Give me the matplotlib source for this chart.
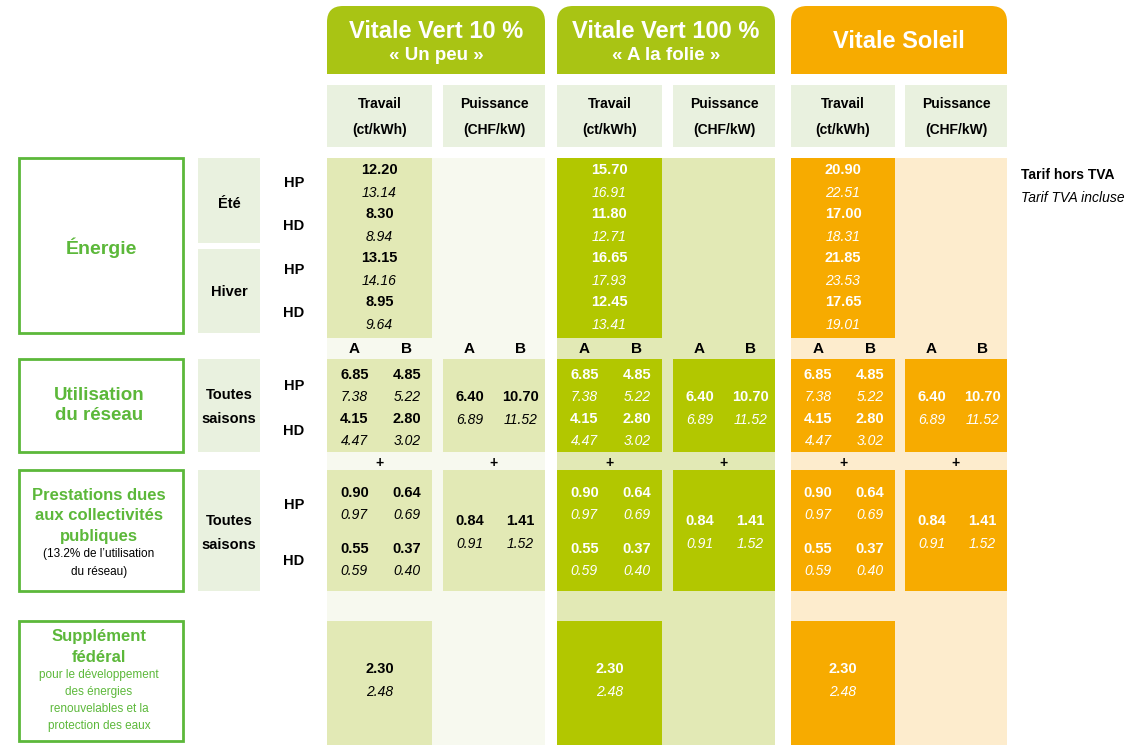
import matplotlib
matplotlib.use("Agg")
import matplotlib.pyplot as plt
from matplotlib.patches import Rectangle, FancyBboxPatch

plans = ["Vitale Vert 10 %\n« Un peu »", "Vitale Vert 100 %\n« A la folie »", "Vitale Soleil"]
energy_ht = [["12.20", "8.30", "13.15", "8.95"], ["15.70", "11.80", "16.65", "12.45"], ["20.90", "17.00", "21.85", "17.65"]]
energy_ttc = [["13.14", "8.94", "14.16", "9.64"], ["16.91", "12.71", "17.93", "13.41"], ["22.51", "18.31", "23.53", "19.01"]]
reseau_travail = [["6.85", "4.85"], ["7.38", "5.22"], ["4.15", "2.80"], ["4.47", "3.02"]]
reseau_puiss = [["6.40", "10.70"], ["6.89", "11.52"]]
prest_travail = [["0.90", "0.64"], ["0.97", "0.69"], ["0.55", "0.37"], ["0.59", "0.40"]]
prest_puiss = [["0.84", "1.41"], ["0.91", "1.52"]]
supplement = ["2.30", "2.48"]

fig = plt.figure(figsize=(11.36, 7.56), dpi=100)
ax = fig.add_axes([0, 0, 1, 1])
ax.set_xlim(0, 1136); ax.set_ylim(756, 0); ax.axis("off")
F = "Liberation Sans"

def rect(x0, y0, x1, y1, c, ec="none", lw=0):
    ax.add_patch(Rectangle((x0, y0), x1 - x0, y1 - y0, facecolor=c, edgecolor=ec, lw=lw))

def t(x, y, s, c="black", size=10.5, w="bold", st="normal", **kw):
    ax.text(x, y, s, color=c, fontsize=size, fontweight=w, style=st, ha="center", va="center", family=F, **kw)

def lines(x, y0, step, items):
    for k, (s, c, size, w) in enumerate(items):
        t(x, y0 + k * step, s, c, size, w)

colx = [(327, 432, 443, 545), (557, 662, 673, 775), (791, 895, 905, 1007)]
hdr = ["#a9c414", "#a9c414", "#f7ab00"]
strong = ["#e2e9b5", "#b2c700", "#f7ab00"]
tint = ["#f7f9ef", "#e2e9b5", "#fdeccd"]
txt = ["black", "white", "white"]
sub = "#e9f1df"
green = "#5cb83a"

for i, (a0, a1, b0, b1) in enumerate(colx):
    ax.add_patch(FancyBboxPatch((a0, 6), b1 - a0, 80, boxstyle="round,pad=0,rounding_size=16",
                                facecolor=hdr[i], edgecolor="none"))
    rect(a0, 50, b1, 74, hdr[i])
    rect(a0, 74, b1, 90, "white")
    if i < 2:
        l1, l2 = plans[i].split("\n")
        t((a0 + b1) / 2, 31, l1, "white", 17)
        t((a0 + b1) / 2, 56, l2, "white", 13.5)
    else:
        t((a0 + b1) / 2, 42, plans[i], "white", 17)
    for (x0, x1), (l1, l2) in [((a0, a1), ("Travail", "(ct/kWh)")), ((b0, b1), ("Puissance", "(CHF/kW)"))]:
        rect(x0, 85, x1, 147, sub)
        t((x0 + x1) / 2, 104, l1, size=10)
        t((x0 + x1) / 2, 130, l2, size=10)
    rect(a0, 158, b1, 745, tint[i])
    rect(a0, 158, a1, 338, strong[i])
    for k in range(4):
        y = 170 + k * 44
        t((a0 + a1) / 2, y, energy_ht[i][k], txt[i], 10.5)
        t((a0 + a1) / 2, y + 23, energy_ttc[i][k], txt[i], 10, "normal", "italic")
    for (x0, x1) in [(a0, a1), (b0, b1)]:
        xa, xb = x0 + 0.26 * (x1 - x0), x0 + 0.76 * (x1 - x0)
        t(xa, 349, "A", size=11); t(xb, 349, "B", size=11)
        t((x0 + x1) / 2, 463, "+", size=10)
        for (y0, y1, trav, puis, ys, yp) in [(359, 452, reseau_travail, reseau_puiss, 375, 397),
                                            (470, 591, prest_travail, prest_puiss, 493, 521)]:
            rect(x0, y0, x1, y1, strong[i])
            if x0 == a0:
                for k in range(4):
                    yy = ys + k * 22 + (12 if (ys == 493 and k >= 2) else 0)
                    for j, xx in enumerate([xa, xb]):
                        if k % 2 == 0:
                            t(xx, yy, trav[k][j], txt[i], 10.5)
                        else:
                            t(xx, yy, trav[k][j], txt[i], 10, "normal", "italic")
            else:
                for k in range(2):
                    for j, xx in enumerate([xa, xb]):
                        if k == 0:
                            t(xx, yp, puis[k][j], txt[i], 10.5)
                        else:
                            t(xx, yp + 23, puis[k][j], txt[i], 10, "normal", "italic")
    rect(a0, 621, a1, 745, strong[i])
    t((a0 + a1) / 2, 669, supplement[0], txt[i], 10.5)
    t((a0 + a1) / 2, 692, supplement[1], txt[i], 10, "normal", "italic")

for (y0, y1) in [(158, 333), (359, 452), (470, 591), (621, 741)]:
    rect(19, y0, 183, y1, "white", green, 2)
t(101, 248, "Énergie", green, 14)
lines(99, 396, 19, [("Utilisation", green, 13.5, "bold"), ("du réseau", green, 13.5, "bold")])
lines(99, 496, 20, [("Prestations dues", green, 12, "bold"), ("aux collectivités", green, 12, "bold"),
                    ("publiques", green, 12, "bold")])
lines(99, 554, 18, [("(13.2% de l’utilisation", "black", 8.5, "normal"), ("du réseau)", "black", 8.5, "normal")])
lines(99, 637, 20, [("Supplément", green, 12, "bold"), ("fédéral", green, 12, "bold")])
lines(99, 675, 17, [("pour le développement", green, 8.5, "normal"), ("des énergies", green, 8.5, "normal"),
                    ("renouvelables et la", green, 8.5, "normal"), ("protection des eaux", green, 8.5, "normal")])

rect(198, 158, 260, 243, sub); t(229, 204, "Été", size=10.5)
rect(198, 249, 260, 333, sub); t(229, 292, "Hiver", size=10.5)
rect(198, 359, 260, 452, sub); t(229, 395, "Toutes", size=10.5); t(229, 419, "saisons", size=10.5)
rect(198, 470, 260, 591, sub); t(229, 521, "Toutes", size=10.5); t(229, 545, "saisons", size=10.5)
for y, s in [(183, "HP"), (226, "HD"), (270, "HP"), (313, "HD"), (386, "HP"), (431, "HD"), (505, "HP"), (561, "HD")]:
    t(294, y, s, size=10.5)

ax.text(1021, 175, "Tarif hors TVA", fontsize=10, fontweight="bold", family=F, va="center")
ax.text(1021, 198, "Tarif TVA incluse", fontsize=10, style="italic", family=F, va="center")

fig.savefig("out.png", dpi=100)
